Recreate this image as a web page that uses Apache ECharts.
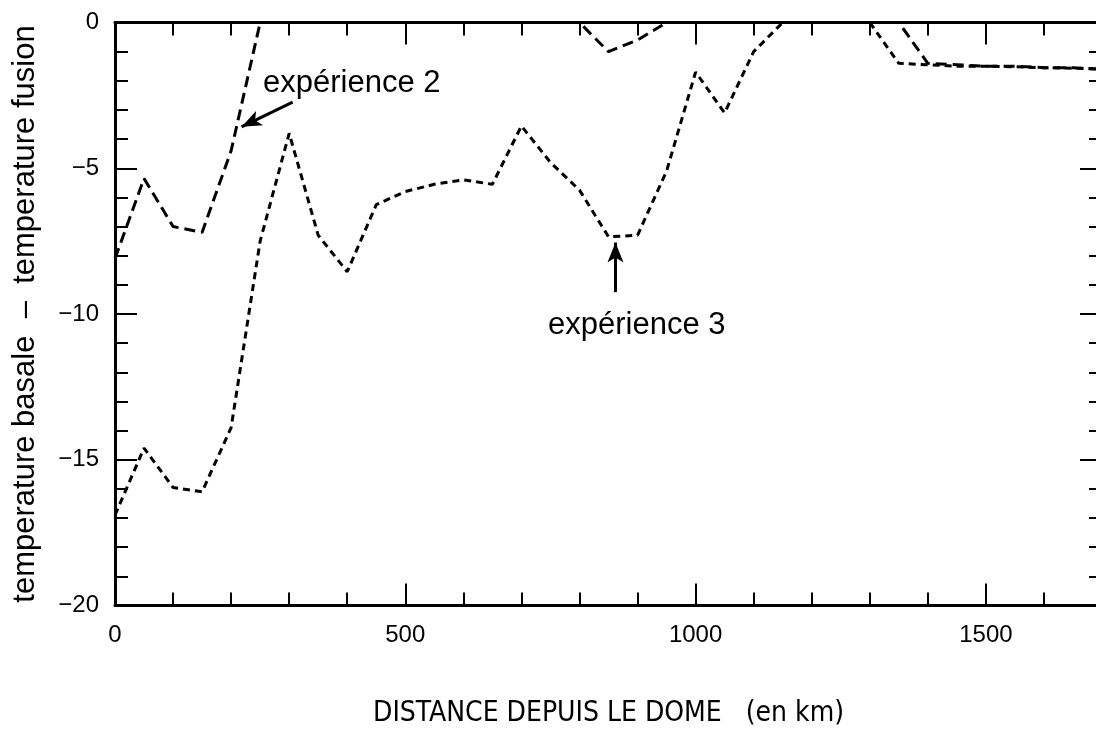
<!DOCTYPE html>
<html><head><meta charset="utf-8">
<script src="https://cdn.jsdelivr.net/npm/echarts@6/dist/echarts.min.js"></script>
<style>html,body{margin:0;padding:0;overflow:hidden;background:#fff}#c{width:1110px;height:738px}</style>
</head><body><div id="c"></div>
<script>
const distances = [0,50,100,150,200,250,300,350,400,450,500,550,600,650,700,750,800,850,900,950,1000,1050,1100,1150,1200,1250,1300,1350,1400,1450,1500,1550,1600,1650,1700];
const exp2 = [-8.1,-5.35,-7.0,-7.2,-4.4,0,0,0,0,0,0,0,0,0,0,0,0,-1.0,-0.6,0,0,0,0,0,0,0,0,0,-1.4,-1.45,-1.5,-1.5,-1.55,-1.55,-1.6];
const exp3 = [-16.9,-14.6,-15.95,-16.1,-13.9,-7.5,-3.8,-7.3,-8.55,-6.25,-5.8,-5.55,-5.4,-5.55,-3.55,-4.8,-5.75,-7.35,-7.3,-5.1,-1.7,-3.1,-1.0,0,0,0,0,-1.4,-1.45,-1.5,-1.5,-1.52,-1.55,-1.57,-1.6];
const xTickLabels = [0,500,1000,1500];
const yTickLabels = [0,-5,-10,-15,-20];
const label2 = 'expérience 2';
const label3 = 'expérience 3';
const xTitle = 'DISTANCE DEPUIS LE DOME   (en km)';
const yTitle = 'temperature basale  –  temperature fusion';

const FONT = '"Liberation Sans", Arial, sans-serif';
const pairs = (ys) => distances.map((d,i) => [d, ys[i]]);
const black = '#000';

function xAxisDef(pos, interval, len, opts) {
  return Object.assign({
    type:'value', position:pos, min:0, max:1700, interval:interval,
    axisLine:{show:false, onZero:false, lineStyle:{color:black,width:3}},
    axisTick:{inside:true, length:len, lineStyle:{color:black,width:2}},
    axisLabel:{show:false}, splitLine:{show:false}
  }, opts || {});
}
function yAxisDef(pos, interval, len, opts) {
  return Object.assign({
    type:'value', position:pos, min:-20, max:0, interval:interval,
    axisLine:{show:false, onZero:false, lineStyle:{color:black,width:3}},
    axisTick:{inside:true, length:len, lineStyle:{color:black,width:2}},
    axisLabel:{show:false}, splitLine:{show:false}
  }, opts || {});
}

const chart = echarts.init(document.getElementById('c'));
chart.setOption({
  animation:false,
  backgroundColor:'#fff',
  grid:{left:115, right:8, top:22.5, bottom:132.5, containLabel:false},
  xAxis:[
    xAxisDef('bottom',100,13,{
      axisLine:{show:true,onZero:false,lineStyle:{color:black,width:3}},
      axisLabel:{show:true, margin:18, fontSize:24, color:black, fontFamily:FONT,
        formatter:(v)=> xTickLabels.indexOf(v)>=0 ? String(v) : ''},
      name:xTitle, nameLocation:'middle', nameGap:94,
      nameTextStyle:{fontSize:28, color:black, fontFamily:'"Liberation Sans Narrow","DejaVu Sans Condensed",sans-serif'}
    }),
    xAxisDef('bottom',500,22),
    xAxisDef('top',100,13,{axisLine:{show:true,onZero:false,lineStyle:{color:black,width:3}}}),
    xAxisDef('top',500,22)
  ],
  yAxis:[
    yAxisDef('left',1,13,{
      axisLine:{show:true,onZero:false,lineStyle:{color:black,width:3}},
      axisLabel:{show:true, margin:16, fontSize:24, color:black, fontFamily:FONT,
        formatter:(v)=> yTickLabels.indexOf(v)>=0 ? (v<0 ? '\u2212'+Math.abs(v) : String(v)) : ''},
      name:yTitle, nameLocation:'middle', nameGap:74, nameRotate:90,
      nameTextStyle:{fontSize:31, color:black, fontFamily:FONT}
    }),
    yAxisDef('left',5,22),
    yAxisDef('right',1,13,{axisLine:{show:true,onZero:false,lineStyle:{color:black,width:3}}}),
    yAxisDef('right',5,22)
  ],
  series:[
    {
      name:label2, type:'line', xAxisIndex:0, yAxisIndex:0, data:pairs(exp2),
      showSymbol:false, symbol:'none', emphasis:{disabled:true}, silent:true,
      lineStyle:{color:black, width:3, type:[11,6]},
      markLine:{silent:true, symbol:['none','arrow'], symbolSize:[12,20],
        lineStyle:{color:black,width:3,type:'solid'}, label:{show:false},
        data:[[{coord:[306,-2.73]},{coord:[218,-3.58]}]]},
      markPoint:{silent:true, symbol:'circle', symbolSize:1, itemStyle:{color:'rgba(0,0,0,0)'},
        label:{show:true, position:'right', distance:0, fontSize:31, color:black, fontFamily:FONT, formatter:label2},
        data:[{coord:[254,-2.08]}]}
    },
    {
      name:label3, type:'line', xAxisIndex:0, yAxisIndex:0, data:pairs(exp3),
      showSymbol:false, symbol:'none', emphasis:{disabled:true}, silent:true,
      lineStyle:{color:black, width:3, type:[7,5]},
      markLine:{silent:true, symbol:['none','arrow'], symbolSize:[12,20],
        lineStyle:{color:black,width:3,type:'solid'}, label:{show:false},
        data:[[{coord:[862,-9.25]},{coord:[862,-7.55]}]]},
      markPoint:{silent:true, symbol:'circle', symbolSize:1, itemStyle:{color:'rgba(0,0,0,0)'},
        label:{show:true, position:'right', distance:0, fontSize:31, color:black, fontFamily:FONT, formatter:label3},
        data:[{coord:[745,-10.41]}]}
    }
  ]
});
</script></body></html>
